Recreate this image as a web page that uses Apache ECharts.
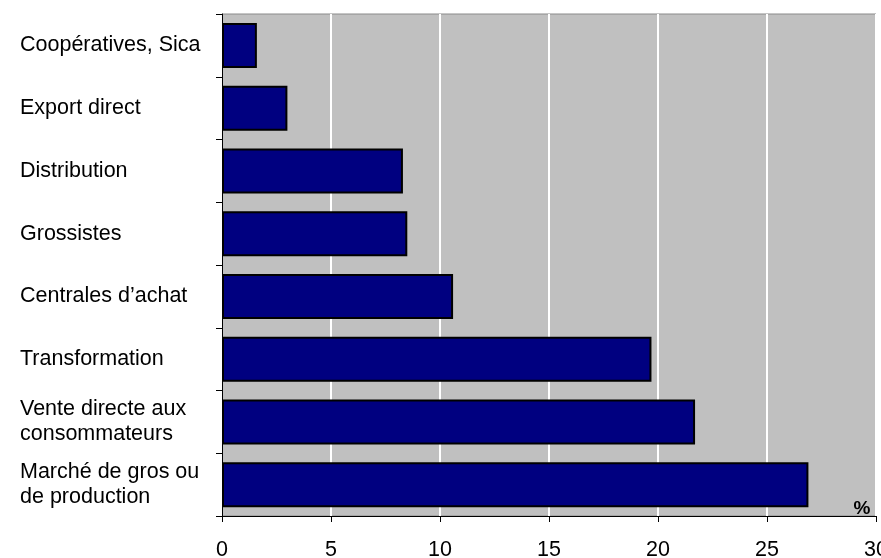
<!DOCTYPE html>
<html>
<head>
<meta charset="utf-8">
<script src="https://cdn.jsdelivr.net/npm/echarts@6/dist/echarts.min.js"></script>
<style>
html,body{margin:0;padding:0;background:#fff;}
#chart{width:881px;height:558px;}
</style>
</head>
<body>
<div id="chart"></div>
<script>
const categories = [
  "Coopératives, Sica",
  "Export direct",
  "Distribution",
  "Grossistes",
  "Centrales d\u2019achat",
  "Transformation",
  "Vente directe aux\nconsommateurs",
  "Marché de gros ou\nde production"
];
const values = [1.6, 3.0, 8.3, 8.5, 10.6, 19.7, 21.7, 26.9];
const xTicks = { min: 0, max: 30, interval: 5 };
const unitLabel = "%";

const font = "'Liberation Sans', Arial, sans-serif";
const chart = echarts.init(document.getElementById('chart'), null, {renderer: 'canvas'});
chart.setOption({
  animation: false,
  backgroundColor: '#ffffff',
  grid: {
    left: 222, right: 5, top: 14, bottom: 42,
    containLabel: false,
    outerBoundsMode: 'none',
    show: true, backgroundColor: '#C0C0C0', borderColor: '#8a8a8a', borderWidth: 1
  },
  xAxis: {
    type: 'value',
    min: xTicks.min, max: xTicks.max, interval: xTicks.interval,
    name: unitLabel,
    nameLocation: 'end',
    nameGap: -14,
    nameTextStyle: {
      fontFamily: font, fontSize: 19, fontWeight: 'bold', color: '#000',
      align: 'center', verticalAlign: 'bottom', padding: [0, 0, -2, 0]
    },
    axisLine: { show: true, lineStyle: { color: '#000', width: 1 } },
    axisTick: { show: true, inside: false, length: 6, lineStyle: { color: '#000' } },
    axisLabel: { fontFamily: font, fontSize: 21.5, color: '#000', margin: 23, showMaxLabel: true },
    splitLine: { show: true, lineStyle: { color: '#ffffff', width: 2 } }
  },
  yAxis: {
    type: 'category',
    data: categories,
    inverse: true,
    axisLine: { show: true, lineStyle: { color: '#000', width: 1 } },
    axisTick: { show: true, inside: false, length: 6, lineStyle: { color: '#000' } },
    axisLabel: {
      fontFamily: font, fontSize: 21.5, color: '#000',
      align: 'left', margin: 202, lineHeight: 25
    },
    splitLine: { show: false }
  },
  series: [{
    type: 'bar',
    data: values,
    barWidth: 45,
    itemStyle: { color: '#000080', borderColor: '#000', borderWidth: 2 }
  }]
});
</script>
</body>
</html>
